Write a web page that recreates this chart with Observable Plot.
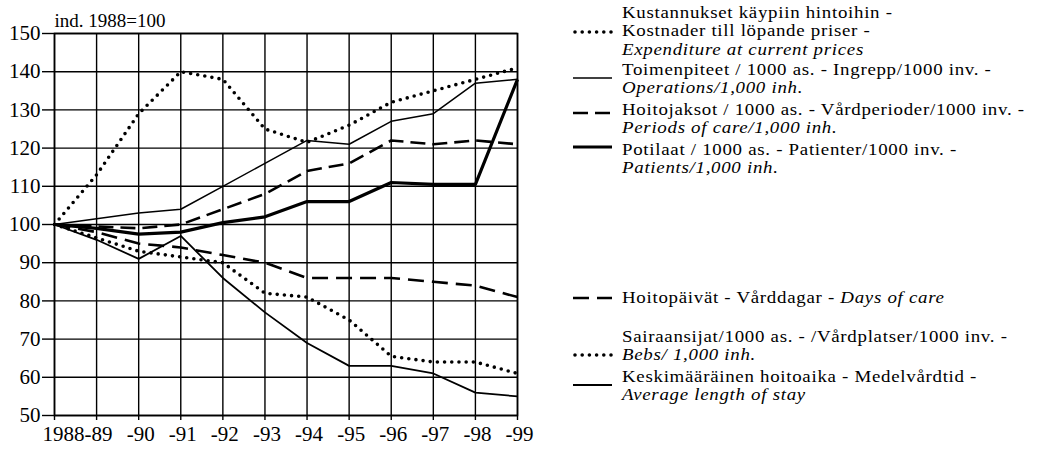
<!DOCTYPE html>
<html>
<head>
<meta charset="utf-8">
<script src="https://cdn.jsdelivr.net/npm/d3@7"></script>
<script src="https://cdn.jsdelivr.net/npm/@observablehq/plot@0.6"></script>
<style>
  html, body { margin: 0; padding: 0; background: #fff; overflow: hidden; }
  #wrap { position: relative; width: 1053px; height: 452px; font-family: "Liberation Serif", "Liberation Sans", Arial, sans-serif; color: #000; }
  #chart { position: absolute; left: 0; top: 0; }
  .entry { position: absolute; left: 622px; font-size: 16px; line-height: 18.4px; letter-spacing: 0.6px; white-space: nowrap;
           transform: scaleX(1.18); transform-origin: 0 50%; }
  .sample { position: absolute; left: 572px; }
</style>
</head>
<body>
<div id="wrap">
  <div id="chart"></div>
  <div id="legend"></div>
</div>
<script>
// ---- data ----
const years = [1988, 1989, 1990, 1991, 1992, 1993, 1994, 1995, 1996, 1997, 1998, 1999];
const yTicks = [50, 60, 70, 80, 90, 100, 110, 120, 130, 140, 150];
const expenditure = [100, 113, 129, 140, 138, 125, 121.5, 126, 132, 135, 138, 141];
const operations  = [100, 101.5, 103, 104, 110, 116, 122, 121, 127, 129, 137, 138];
const periods     = [100, 99.5, 99, 100, 104, 108, 114, 116, 122, 121, 122, 121];
const patients    = [100, 99, 97.5, 98, 100.5, 102, 106, 106, 111, 110.5, 110.5, 138];
const daysOfCare  = [100, 98, 95, 94, 92, 90, 86, 86, 86, 85, 84, 81];
const beds        = [100, 96.5, 93, 91.5, 90, 82, 81, 75, 65.5, 64, 64, 61];
const avgStay     = [100, 96, 91, 97, 86, 77, 69, 63, 63, 61, 56, 55];
const yLabel = "ind. 1988=100";

const seriesNames = ["expenditure", "operations", "periods", "patients", "days", "beds", "stay"];
const seriesValues = [expenditure, operations, periods, patients, daysOfCare, beds, avgStay];
const legendLines = [
  ["Kustannukset käypiin hintoihin -", "Kostnader till löpande priser -", "<i>Expenditure at current prices</i>"],
  ["Toimenpiteet / 1000 as. - Ingrepp/1000 inv. -", "<i>Operations/1,000 inh.</i>"],
  ["Hoitojaksot / 1000 as. - Vårdperioder/1000 inv. -", "<i>Periods of care/1,000 inh.</i>"],
  ["Potilaat / 1000 as. - Patienter/1000 inv. -", "<i>Patients/1,000 inh.</i>"],
  ["Hoitopäivät - Vårddagar - <i>Days of care</i>"],
  ["Sairaansijat/1000 as. - /Vårdplatser/1000 inv. -", "<i>Bebs/ 1,000 inh.</i>"],
  ["Keskimääräinen hoitoaika - Medelvårdtid -", "<i>Average length of stay</i>"]
];

// ---- styles ----
const FONT = '"Liberation Serif", "Liberation Sans", Arial, sans-serif';
const styles = {
  expenditure: {strokeWidth: 3.6, dash: "0 7.2", cap: "round"},
  operations:  {strokeWidth: 1.5, dash: null, cap: "butt"},
  periods:     {strokeWidth: 2.6, dash: "15 7", cap: "butt"},
  patients:    {strokeWidth: 3.2, dash: null, cap: "butt"},
  days:        {strokeWidth: 2.6, dash: "16 8", cap: "butt"},
  beds:        {strokeWidth: 3.6, dash: "0 7.2", cap: "round"},
  stay:        {strokeWidth: 1.8, dash: null, cap: "butt"}
};
const entryTop = [3.8, 60.8, 100.8, 140.8, 288.8, 327.8, 367.8];
const sampleY  = [32, 78, 113, 147, 298, 355, 385];

const rows = [];
seriesNames.forEach((s, i) => years.forEach((y, j) => rows.push({series: s, year: y, value: seriesValues[i][j]})));

const fmt = d => d === 1988 ? "1988" : "-" + String(d).slice(2);

const lineMarks = seriesNames.map(s => Plot.line(rows.filter(r => r.series === s), {
  x: "year", y: "value", stroke: "black",
  strokeWidth: styles[s].strokeWidth,
  strokeDasharray: styles[s].dash || undefined,
  strokeLinecap: styles[s].cap,
  strokeLinejoin: "round"
}));

const chart = Plot.plot({
  width: 560, height: 452,
  marginLeft: 54, marginRight: 43, marginTop: 33, marginBottom: 37,
  style: {fontFamily: FONT, fontSize: "21px", color: "black", background: "transparent", overflow: "visible"},
  x: {domain: [1988, 1999], label: null},
  y: {domain: [50, 150], label: null},
  marks: [
    Plot.gridX(years, {stroke: "black", strokeOpacity: 1, strokeWidth: 1.4}),
    Plot.gridY(yTicks, {stroke: "black", strokeOpacity: 1, strokeWidth: 1.4}),
    Plot.frame({stroke: "black", strokeWidth: 1.6}),
    Plot.axisX(years, {tickFormat: () => "", tickSize: 5, strokeWidth: 1.4, label: null}),
    Plot.axisX(years.slice(0, 1), {tickFormat: fmt, tickSize: 0, tickPadding: 11, fontSize: 21, label: null, dx: 9}),
    Plot.axisX(years.slice(1), {tickFormat: fmt, tickSize: 0, tickPadding: 11, fontSize: 21, label: null, dx: 2}),
    Plot.axisY(yTicks, {tickSize: 12, tickPadding: 2, fontSize: 21, strokeWidth: 1.4, label: null}),
    ...lineMarks,
    Plot.text([yLabel], {text: d => d, frameAnchor: "top-left", textAnchor: "start", dy: -20, fontSize: 19})
  ]
});
document.getElementById("chart").appendChild(chart);

// ---- legend ----
const legend = document.getElementById("legend");
seriesNames.forEach((s, i) => {
  const e = document.createElement("div");
  e.className = "entry";
  e.style.top = entryTop[i] + "px";
  e.innerHTML = legendLines[i].join("<br>");
  legend.appendChild(e);
  const st = styles[s];
  const svg = d3.create("svg").attr("class", "sample").attr("width", 42).attr("height", 10)
    .style("top", (sampleY[i] - 5) + "px");
  svg.append("line").attr("x1", st.cap === "round" ? 3 : 1).attr("x2", 40).attr("y1", 5).attr("y2", 5)
    .attr("stroke", "black").attr("stroke-width", st.strokeWidth)
    .attr("stroke-dasharray", st.dash || null).attr("stroke-linecap", st.cap);
  legend.appendChild(svg.node());
});
</script>
</body>
</html>
